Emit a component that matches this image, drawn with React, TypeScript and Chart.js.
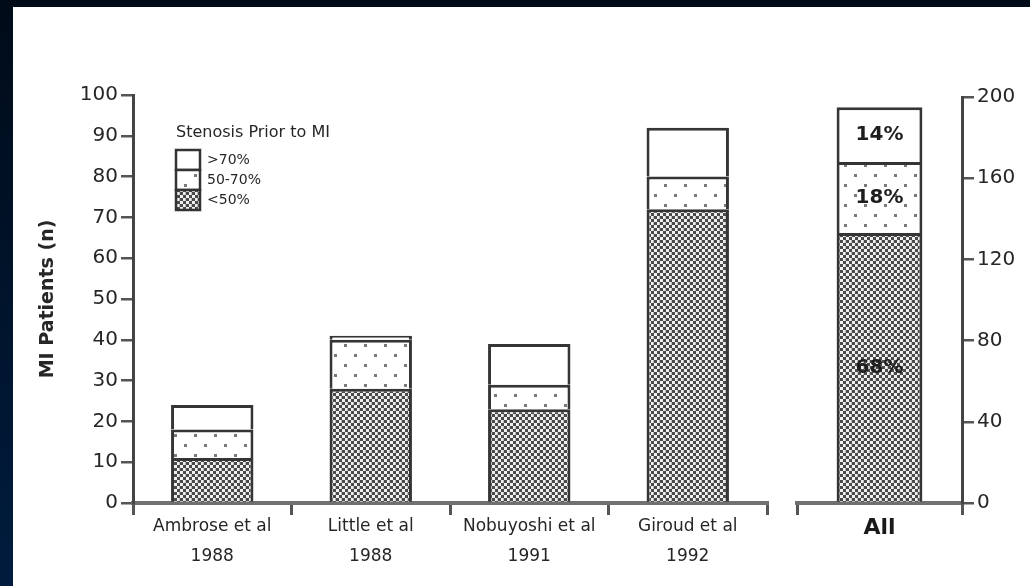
import React, { useEffect, useRef } from 'react';
import { Chart, registerables } from 'chart.js';

Chart.register(...registerables);

// ---- data ----
const studyLabels: string[][] = [
  ['Ambrose et al', '1988'],
  ['Little et al', '1988'],
  ['Nobuyoshi et al', '1991'],
  ['Giroud et al', '1992'],
];
const below50: number[] = [11, 28, 23, 72];
const from50to70: number[] = [7, 12, 6, 8];
const above70: number[] = [6, 1, 10, 12];

const allLabels: string[] = ['All'];
const allBelow50: number[] = [133];
const allFrom50to70: number[] = [35];
const allAbove70: number[] = [27];

const seriesNames: string[] = ['<50%', '50-70%', '>70%'];
const legendTitle = 'Stenosis Prior to MI';
const yTitle = 'MI Patients (n)';
const leftTickRange = [0, 100, 10];
const rightTickRange = [0, 200, 40];

const FONT = "'DejaVu Sans', 'Liberation Sans', Arial, sans-serif";
const TEXT = '#262626';

function makeChecker(): CanvasPattern {
  const c = document.createElement('canvas');
  c.width = 6;
  c.height = 6;
  const x = c.getContext('2d')!;
  x.fillStyle = '#f0f0f0';
  x.fillRect(0, 0, 6, 6);
  x.fillStyle = '#4a4a4a';
  x.fillRect(0, 0, 3, 3);
  x.fillRect(3, 3, 3, 3);
  x.fillStyle = '#bdbdbd';
  x.fillRect(5, 0, 1, 3);
  return x.createPattern(c, 'repeat')!;
}

function makeDots(): CanvasPattern {
  const c = document.createElement('canvas');
  c.width = 20;
  c.height = 20;
  const x = c.getContext('2d')!;
  x.fillStyle = '#ffffff';
  x.fillRect(0, 0, 20, 20);
  x.fillStyle = '#7a7a7a';
  x.fillRect(4, 4, 3, 3);
  x.fillRect(14, 14, 3, 3);
  return x.createPattern(c, 'repeat')!;
}

const legendPlugin = {
  id: 'stenosisLegend',
  afterDraw(chart: any) {
    const ctx = chart.ctx as CanvasRenderingContext2D;
    const { left, top } = chart.chartArea;
    const x0 = left + 43;
    ctx.save();
    ctx.fillStyle = TEXT;
    ctx.font = `16px ${FONT}`;
    ctx.textAlign = 'left';
    ctx.textBaseline = 'middle';
    ctx.fillText(legendTitle, x0, top + 38);
    const boxW = 24;
    const boxH = 20;
    const y0 = top + 55;
    const order = [2, 1, 0];
    ctx.font = `14px ${FONT}`;
    order.forEach((di, k) => {
      const ds = chart.data.datasets[di];
      const y = y0 + k * boxH;
      ctx.fillStyle = ds.backgroundColor;
      ctx.fillRect(x0, y, boxW, boxH);
      ctx.strokeStyle = '#333';
      ctx.lineWidth = 2.5;
      ctx.strokeRect(x0, y, boxW, boxH);
      ctx.fillStyle = TEXT;
      ctx.fillText(ds.label, x0 + boxW + 7, y + boxH / 2);
    });
    ctx.restore();
  },
};

const percentPlugin = {
  id: 'percentLabels',
  afterDatasetsDraw(chart: any) {
    const ctx = chart.ctx as CanvasRenderingContext2D;
    const datasets = chart.data.datasets;
    const totals = chart.data.labels.map((_: any, i: number) =>
      datasets.reduce((s: number, d: any) => s + d.data[i], 0)
    );
    ctx.save();
    ctx.fillStyle = '#1e1e1e';
    ctx.font = `bold 20px ${FONT}`;
    ctx.textAlign = 'center';
    ctx.textBaseline = 'middle';
    datasets.forEach((ds: any, di: number) => {
      const meta = chart.getDatasetMeta(di);
      meta.data.forEach((bar: any, i: number) => {
        const { x, y, base } = bar.getProps(['x', 'y', 'base'], true);
        const pct = Math.round((ds.data[i] / totals[i]) * 100) + '%';
        ctx.fillText(pct, x, (y + base) / 2);
      });
    });
    ctx.restore();
  },
};

function ds(label: string, data: number[], bg: any) {
  return {
    label,
    data,
    backgroundColor: bg,
    borderColor: '#353535',
    borderWidth: 3,
    barPercentage: 0.52,
    categoryPercentage: 1,
  };
}

export default function App() {
  const leftRef = useRef<HTMLCanvasElement>(null);
  const rightRef = useRef<HTMLCanvasElement>(null);

  useEffect(() => {
    const checker = makeChecker();
    const dots = makeDots();
    const fills = [checker, dots, '#ffffff'];

    const xGrid = {
      display: true,
      drawOnChartArea: false,
      drawTicks: true,
      tickLength: 12,
      color: '#555',
      lineWidth: 3,
      offset: true,
    };
    const yGrid = {
      drawOnChartArea: false,
      drawTicks: true,
      tickLength: 12,
      color: '#555',
      lineWidth: 2.5,
    };

    const c1 = new Chart(leftRef.current!, {
      type: 'bar',
      data: {
        labels: studyLabels as any,
        datasets: [
          ds(seriesNames[0], below50, fills[0]),
          ds(seriesNames[1], from50to70, fills[1]),
          ds(seriesNames[2], above70, fills[2]),
        ],
      },
      options: {
        responsive: false,
        animation: false,
        layout: { padding: { top: 95, right: 13, left: 0, bottom: 0 } },
        plugins: { legend: { display: false }, tooltip: { enabled: false } },
        scales: {
          x: {
            stacked: true,
            grid: xGrid as any,
            border: { display: true, color: '#707070', width: 4 },
            ticks: {
              font: { family: FONT, size: 17, lineHeight: 1.75 },
              color: TEXT,
              padding: -3,
              maxRotation: 0,
              autoSkip: false,
            },
            afterFit: (s: any) => {
              s.height = 83;
            },
          },
          y: {
            stacked: true,
            min: leftTickRange[0],
            max: leftTickRange[1],
            ticks: {
              stepSize: leftTickRange[2],
              font: { family: FONT, size: 20 },
              color: TEXT,
              padding: 3,
            },
            grid: yGrid as any,
            border: { display: true, color: '#444', width: 3 },
            title: {
              display: true,
              text: yTitle,
              font: { family: FONT, size: 19, weight: 'bold' },
              color: TEXT,
              padding: { top: 37, bottom: 0 },
            },
            afterFit: (s: any) => {
              s.width = 133;
            },
          },
        },
      },
      plugins: [legendPlugin],
    });

    const c2 = new Chart(rightRef.current!, {
      type: 'bar',
      data: {
        labels: allLabels,
        datasets: [
          ds(seriesNames[0], allBelow50, fills[0]),
          ds(seriesNames[1], allFrom50to70, fills[1]),
          ds(seriesNames[2], allAbove70, fills[2]),
        ],
      },
      options: {
        responsive: false,
        animation: false,
        layout: { padding: { top: 97, right: 0, left: 17, bottom: 0 } },
        plugins: { legend: { display: false }, tooltip: { enabled: false } },
        scales: {
          x: {
            stacked: true,
            grid: xGrid as any,
            border: { display: true, color: '#707070', width: 4 },
            ticks: {
              font: { family: FONT, size: 22, weight: 'bold' },
              color: '#1a1a1a',
              padding: 0,
              maxRotation: 0,
            },
            afterFit: (s: any) => {
              s.height = 83;
            },
          },
          y: {
            position: 'right',
            stacked: true,
            min: rightTickRange[0],
            max: rightTickRange[1],
            ticks: {
              stepSize: rightTickRange[2],
              font: { family: FONT, size: 20 },
              color: TEXT,
              padding: 3,
            },
            grid: yGrid as any,
            border: { display: true, color: '#444', width: 3 },
            afterFit: (s: any) => {
              s.width = 68;
            },
          },
        },
      },
      plugins: [percentPlugin],
    });

    return () => {
      c1.destroy();
      c2.destroy();
    };
  }, []);

  return (
    <div
      style={{
        position: 'fixed',
        left: 0,
        top: 0,
        width: 1030,
        height: 586,
        overflow: 'hidden',
        background: 'linear-gradient(to bottom, #000b18, #001c3e)',
      }}
    >
      <div style={{ position: 'absolute', left: 13, top: 7, right: 0, bottom: 0, background: '#ffffff' }} />
      <canvas
        ref={leftRef}
        width={780}
        height={586}
        style={{ position: 'absolute', left: 0, top: 0, width: 780, height: 586, filter: 'blur(0.5px)' }}
      />
      <canvas
        ref={rightRef}
        width={250}
        height={586}
        style={{ position: 'absolute', left: 780, top: 0, width: 250, height: 586, filter: 'blur(0.5px)' }}
      />
    </div>
  );
}
